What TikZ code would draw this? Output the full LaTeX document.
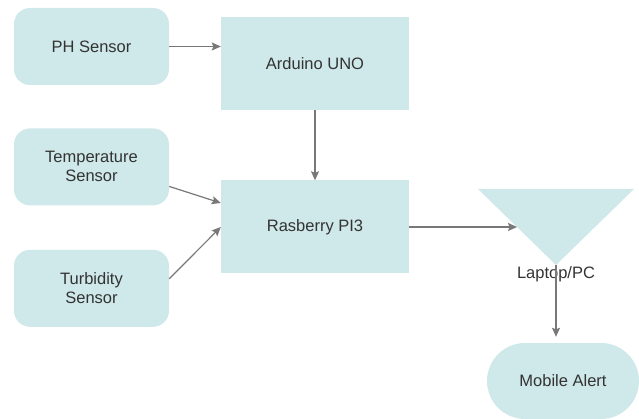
\documentclass[tikz,border=0pt]{standalone}
\usepackage{fontspec}
\setmainfont{Liberation Sans}
\usetikzlibrary{arrows.meta,positioning,calc}
\definecolor{boxfill}{RGB}{207,232,233}
\definecolor{linegray}{RGB}{120,120,120}
\definecolor{textgray}{RGB}{51,51,51}
\tikzset{>={Stealth[length=9pt,width=8pt,inset=1.5pt]}, % filled arrow heads
every node/.style={text=textgray, font=\fontsize{16.5}{19}\selectfont, align=center},
sensor/.style={fill=boxfill, rounded corners=16pt, minimum width=155pt, minimum height=77pt, inner sep=0pt}, % rounded input boxes
board/.style={fill=boxfill, minimum width=188pt, minimum height=93pt, inner sep=0pt}, % the two boards
link/.style={->, draw=linegray, line width=1.2pt}, % connectors
}

\begin{document}
\begin{tikzpicture}[x=1pt, y=-1pt]
\useasboundingbox (0,0) rectangle (639,419);
\node[sensor] (ph) at (91.5,46.5) {PH Sensor};
\node[sensor, below=43pt of ph] (temp) {Temperature\\Sensor};
\node[sensor, below=44pt of temp] (turb) {Turbidity\\Sensor};
\node[board] (pi) at (315,227) {Rasberry PI3};
\node[board, above=70pt of pi] (ard) {Arduino UNO};
% laptop triangle
\coordinate (t1) at (478,189);
\coordinate (t2) at (634,189);
\coordinate (t3) at (556,265);
\fill[boxfill] (t1) -- (t2) -- (t3) -- cycle;
\node[below=0pt of t3, inner sep=1pt] (lap) {Laptop/PC};
\node[fill=boxfill, rounded corners=38pt, minimum width=152pt, minimum height=76pt, inner sep=0pt] (mob) at (563,381) {Mobile Alert};
\draw[link] (ph.east) -- (ph.east -| ard.west);
\draw[link] (ard.south) -- (pi.north);
\draw[link] ([yshift=-19.5pt]temp.east) -- ([yshift=24pt]pi.west);
\draw[link] ([yshift=9.5pt]turb.east) -- (pi.west);
\draw[link] (pi.east) -- ($(t1)!.5!(t3)$);
\draw[link] (t3) -- ([yshift=6pt]t3 |- mob.north);
\end{tikzpicture}
\end{document}
